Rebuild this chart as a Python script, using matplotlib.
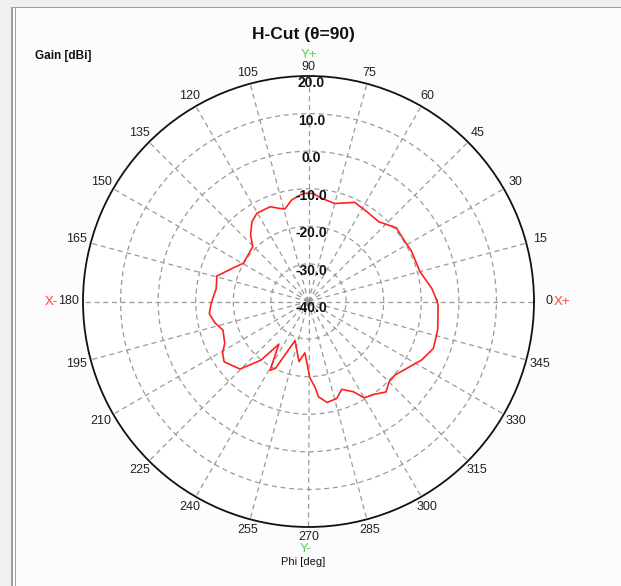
import numpy as np
import matplotlib
matplotlib.use("Agg")
import matplotlib.pyplot as plt
from matplotlib.patches import Rectangle
from matplotlib.transforms import offset_copy

# H-cut gain pattern
phi_deg = [0.7, 6, 15, 26, 32, 40, 48.5, 57, 65, 75, 83, 87.5, 92, 94.6, 99.4,
           104.3, 108, 112, 120.4, 125.4, 131, 135.5, 149.6, 155.8, 164.5, 172,
           181, 187, 193, 198.4, 206.5, 210.8, 215.5, 224.6, 231, 235.2, 240.8,
           243.7, 251, 261, 266, 271, 274.3, 276, 280.4, 286.2, 290.7, 296.4,
           300, 305, 310.6, 315, 319.6, 332.7, 339.4, 347.6, 358.5, 360.7]
gain_dbi = [-5.9, -7.0, -9.3, -9.5, -9.8, -9.5, -11.7, -11.5, -10.9, -13.0, -12.3,
            -11.2, -11.2, -11.6, -12.6, -14.6, -13.9, -12.8, -12.8, -14.0, -16.5,
            -19.2, -19.9, -18.1, -14.7, -15.2, -14.1, -13.4, -14.5, -16.0, -15.1,
            -13.4, -12.4, -14.4, -19.9, -26.2, -19.0, -20.2, -29.0, -23.8, -26.3,
            -19.7, -17.2, -14.5, -12.7, -13.1, -15.0, -13.2, -10.4, -9.8, -8.3,
            -9.7, -9.8, -6.1, -4.5, -4.8, -5.5, -5.9]

angle_ticks = list(range(0, 360, 15))
gain_ticks = [-40, -30, -20, -10, 0, 10, 20]

W, H = 621, 586
fig = plt.figure(figsize=(W / 100, H / 100), dpi=100, facecolor="#fcfcfc")
plt.rcParams["font.family"] = ["Liberation Sans", "DejaVu Sans"]

# window frame bits
fig.patches.append(Rectangle((0, 1 - 7 / H), 1, 7 / H, transform=fig.transFigure,
                             facecolor="#f0f0f0", edgecolor="none"))
fig.patches.append(Rectangle((0, 1 - 8 / H), 1, 1.2 / H, transform=fig.transFigure,
                             facecolor="#a0a0a0", edgecolor="none"))
fig.patches.append(Rectangle((0, 0), 11 / W, 1 - 7 / H, transform=fig.transFigure,
                             facecolor="#f0f0f0", edgecolor="none"))
fig.patches.append(Rectangle((11 / W, 0), 2 / W, 1 - 8 / H, transform=fig.transFigure,
                             facecolor="#a0a0a0", edgecolor="none"))
fig.patches.append(Rectangle((15 / W, 0), 1 / W, 1 - 8 / H, transform=fig.transFigure,
                             facecolor="#a0a0a0", edgecolor="none"))

R = 225.5
cx, cy = 308.5, 301.5
ax = fig.add_axes([(cx - R) / W, (H - cy - R) / H, 2 * R / W, 2 * R / H],
                  projection="polar")
ax.set_facecolor("white")
ax.set_ylim(-40, 20)
ax.set_thetagrids(angle_ticks, labels=[])
ax.set_rgrids(gain_ticks[1:-1], labels=[])
ax.grid(True, color="#9a9a9a", linestyle=(0, (4, 3)), linewidth=0.9)
ax.spines["polar"].set_linewidth(1.3)
ax.spines["polar"].set_color("#111111")
ax.tick_params(length=0)

ax.plot(np.deg2rad(phi_deg), gain_dbi, color="#ff2020", linewidth=1.2, zorder=5)

# angle labels around the rim
for a in angle_ticks:
    t = np.deg2rad(a)
    d = (235 + 5 * abs(np.cos(t))) / (2 * R)
    ax.text(0.5 + d * np.cos(t), 0.5 + d * np.sin(t), str(a), transform=ax.transAxes,
            ha="center", va="center", fontsize=9, color="#222222", clip_on=False)

# gain labels up the 90 deg spoke
tr = offset_copy(ax.transData, fig=fig, x=3, y=0, units="dots")
for g in gain_ticks:
    ax.text(np.pi / 2, g, f"{g:.1f}", transform=tr, ha="center", va="top",
            fontsize=10, fontweight="bold", color="#111111", clip_on=False, zorder=6)

def px(x, y):
    return x / W, 1 - y / H

fig.text(*px(303, 35), "H-Cut (\u03b8=90)", ha="center", va="center",
         fontsize=12.5, fontweight="bold", color="#111111")
fig.text(*px(35, 56), "Gain [dBi]", ha="left", va="center", fontsize=8.5,
         fontweight="bold", color="#111111")
fig.text(*px(309, 55), "Y+", ha="center", va="center", fontsize=9.5, color="#44dd44")
fig.text(*px(306, 549), "Y-", ha="center", va="center", fontsize=9.5, color="#44dd44")
fig.text(*px(303, 562), "Phi [deg]", ha="center", va="center", fontsize=8,
         color="#111111")
fig.text(*px(51.5, 302), "X-", ha="center", va="center", fontsize=9.5, color="#ff4444")
fig.text(*px(562.5, 302), "X+", ha="center", va="center", fontsize=9.5, color="#ff4444")

fig.savefig("out.png", dpi=100, facecolor=fig.get_facecolor())
